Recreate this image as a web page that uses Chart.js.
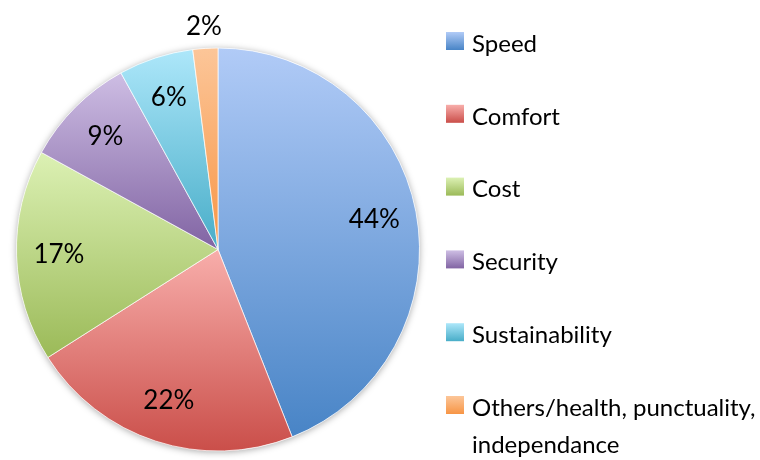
<!DOCTYPE html>
<html>
<head>
<meta charset="utf-8">
<script src="https://cdn.jsdelivr.net/npm/chart.js@4.4.1/dist/chart.umd.min.js"></script>
<style>
    body { margin: 0; background: #ffffff; }
    #wrap { width: 760px; height: 460px; }
</style>
</head>
<body>
<div id="wrap"><canvas id="pieChart" width="760" height="460"></canvas></div>
<script>
const categories = ['Speed', 'Comfort', 'Cost', 'Security', 'Sustainability', 'Others/health, punctuality, independance'];
const shares = [44, 22, 17, 9, 6, 2];
const topColors = ['#b1cbf7', '#f8aeab', '#dcf1b4', '#cebee4', '#ade7fa', '#fcc699'];
const bottomColors = ['#4884c6', '#ca4e49', '#9bba58', '#8164a3', '#48adc8', '#f79545'];

const FONT = 'Lato, "Open Sans", sans-serif';

// vertical extent of one slice, used to stretch its gradient top to bottom
function sliceExtent(chart, index) {
    const area = chart.chartArea;
    const cx = (area.left + area.right) / 2;
    const cy = (area.top + area.bottom) / 2;
    const r = Math.min(area.right - area.left, area.bottom - area.top) / 2;
    const total = shares.reduce((s, v) => s + v, 0);
    const before = shares.slice(0, index).reduce((s, v) => s + v, 0);
    const a0 = -Math.PI / 2 + before / total * Math.PI * 2;
    const a1 = a0 + shares[index] / total * Math.PI * 2;
    const ys = [cy, cy + r * Math.sin(a0), cy + r * Math.sin(a1)];
    const hits = (a) => {
        for (let k = -1; k <= 2; k++) {
            const t = a + k * Math.PI * 2;
            if (t >= a0 && t <= a1) return true;
        }
        return false;
    };
    if (hits(-Math.PI / 2)) ys.push(cy - r);
    if (hits(Math.PI / 2)) ys.push(cy + r);
    return { top: Math.min(...ys), bottom: Math.max(...ys) };
}

function sliceFill(context) {
    const chart = context.chart;
    const i = context.dataIndex;
    if (!chart.chartArea || i === undefined) return bottomColors[i] || '#888';
    const { top, bottom } = sliceExtent(chart, i);
    const g = chart.ctx.createLinearGradient(0, top, 0, bottom);
    g.addColorStop(0, topColors[i]);
    g.addColorStop(1, bottomColors[i]);
    return g;
}

// soft drop shadow under the whole pie
const pieShadow = {
    id: 'pieShadow',
    beforeDatasetsDraw(chart) {
        const arc = chart.getDatasetMeta(0).data[0];
        if (!arc) return;
        const ctx = chart.ctx;
        ctx.save();
        ctx.shadowColor = 'rgba(0,0,0,0.35)';
        ctx.shadowBlur = 7;
        ctx.shadowOffsetY = 1;
        ctx.fillStyle = '#ffffff';
        ctx.beginPath();
        ctx.arc(arc.x, arc.y, arc.outerRadius, 0, Math.PI * 2);
        ctx.fill();
        ctx.restore();
    }
};

// percentage labels inside the slices, tiny slices get theirs outside
const sliceLabels = {
    id: 'sliceLabels',
    afterDatasetsDraw(chart) {
        const ctx = chart.ctx;
        const total = shares.reduce((s, v) => s + v, 0);
        ctx.save();
        ctx.font = '26px ' + FONT;
        ctx.fillStyle = '#000000';
        ctx.textAlign = 'center';
        ctx.textBaseline = 'middle';
        chart.getDatasetMeta(0).data.forEach((arc, i) => {
            const mid = (arc.startAngle + arc.endAngle) / 2;
            const pct = shares[i] / total * 100;
            const k = pct < 3 ? 1.11 : 0.79;
            const x = arc.x + Math.cos(mid) * arc.outerRadius * k;
            const y = arc.y + Math.sin(mid) * arc.outerRadius * k;
            ctx.fillText(Math.round(pct) + '%', x, y);
        });
        ctx.restore();
    }
};

// legend column on the right, long names wrap onto a second line
const sideLegend = {
    id: 'sideLegend',
    afterDraw(chart) {
        const ctx = chart.ctx;
        const boxX = 446, textX = 472, firstY = 41, step = 72.8, lineGap = 37, box = 18, maxW = 290;
        ctx.save();
        ctx.font = '24px ' + FONT;
        ctx.textBaseline = 'middle';
        ctx.textAlign = 'left';
        categories.forEach((name, i) => {
            const y = firstY + i * step;
            const g = ctx.createLinearGradient(0, y - box / 2, 0, y + box / 2);
            g.addColorStop(0, topColors[i]);
            g.addColorStop(1, bottomColors[i]);
            ctx.fillStyle = g;
            ctx.fillRect(boxX, y - box / 2, box, box);

            const lines = [];
            let line = '';
            name.split(' ').forEach(word => {
                const test = line ? line + ' ' + word : word;
                if (line && ctx.measureText(test).width > maxW) {
                    lines.push(line);
                    line = word;
                } else {
                    line = test;
                }
            });
            lines.push(line);
            ctx.fillStyle = '#000000';
            lines.forEach((t, j) => ctx.fillText(t, textX, y + 3 + j * lineGap));
        });
        ctx.restore();
    }
};

new Chart(document.getElementById('pieChart'), {
    type: 'pie',
    data: {
        labels: categories,
        datasets: [{
            data: shares,
            backgroundColor: sliceFill,
            borderColor: 'rgba(255,255,255,0.7)',
            borderWidth: 1
        }]
    },
    options: {
        responsive: false,
        animation: false,
        layout: { padding: { left: 16, top: 47, right: 340, bottom: 8 } },
        plugins: {
            legend: { display: false },
            tooltip: { enabled: false }
        }
    },
    plugins: [pieShadow, sliceLabels, sideLegend]
});
</script>
</body>
</html>
